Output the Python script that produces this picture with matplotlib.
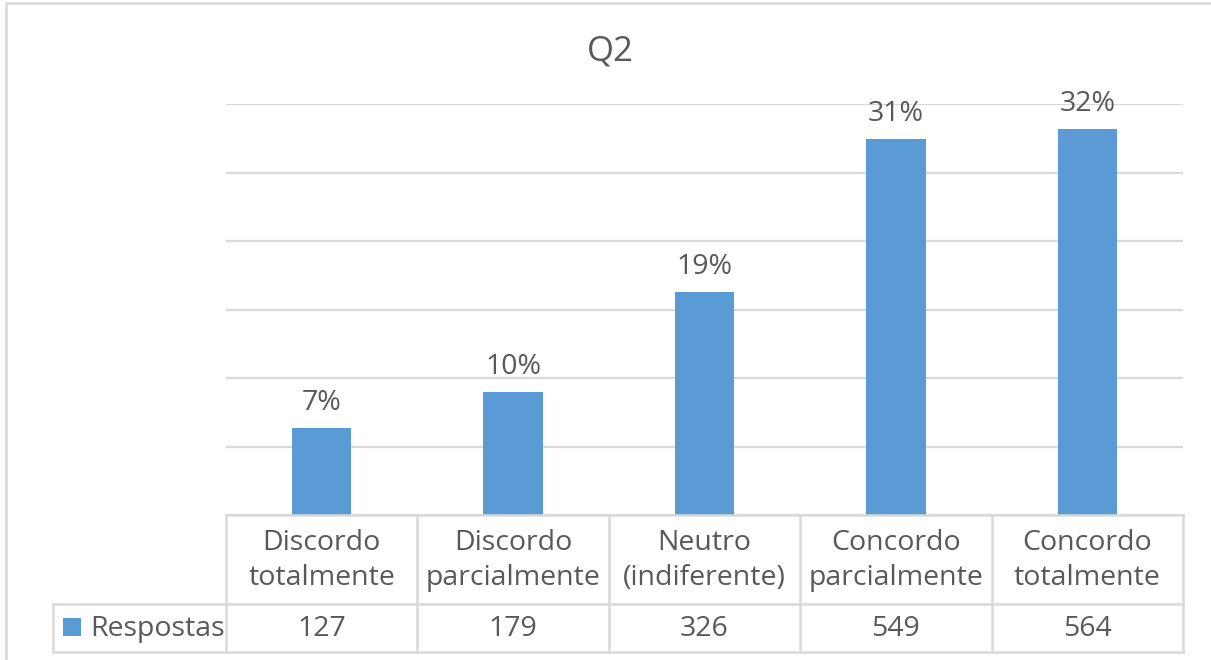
import matplotlib
matplotlib.use("Agg")
import matplotlib.pyplot as plt
from matplotlib.patches import Rectangle

#: Data
categories = ["Discordo\ntotalmente", "Discordo\nparcialmente", "Neutro\n(indiferente)",
              "Concordo\nparcialmente", "Concordo\ntotalmente"]
respostas = [127, 179, 326, 549, 564]
series_name = "Respostas"
title = "Q2"

total = sum(respostas)
pct_labels = ["{:.0f}%".format(v * 100 / total) for v in respostas]

bar_color = "#5B9BD5"
text_color = "#595959"
grid_color = "#D9D9D9"
W, H = 1211, 660
fs = 20.5

plt.rcParams["font.family"] = ["Open Sans", "DejaVu Sans"]

fig = plt.figure(figsize=(W / 100, H / 100), dpi=100)

#: pixel helpers (top-left origin)
def fx(x):
    return x / W

def fy(y):
    return 1 - y / H

left, right, top, base = 226, 1183, 104, 515
ax = fig.add_axes([fx(left), fy(base), fx(right) - fx(left), fy(top) - fy(base)])

x = range(len(respostas))
ax.bar(x, respostas, width=0.31, color=bar_color, zorder=3)
ax.set_xlim(-0.5, len(respostas) - 0.5)
ax.set_ylim(0, 600)
ax.set_yticks(range(0, 601, 100))
ax.yaxis.grid(True, color=grid_color, linewidth=1.6, zorder=0)
ax.tick_params(left=False, bottom=False, labelleft=False, labelbottom=False)
for s in ax.spines.values():
    s.set_visible(False)

for i, (v, lab) in enumerate(zip(respostas, pct_labels)):
    ax.annotate(lab, (i, v), xytext=(0, 8), textcoords="offset points",
                ha="center", va="bottom", fontsize=fs, color=text_color, clip_on=False)

#: title
fig.text(fx(610), fy(51), title, ha="center", va="center", fontsize=25, color=text_color)

#: outer border
fig.patches.append(Rectangle((fx(6), fy(H + 5)), 1.2, fy(3) - fy(H + 5), transform=fig.transFigure,
                             fill=False, edgecolor=grid_color, linewidth=1.8))

#: data table
row1_top, row2_top, row2_bot = 515, 604, 652
leg_left = 53
col_w = (right - left) / len(respostas)

def hline(y, x0, x1):
    fig.add_artist(plt.Line2D([fx(x0), fx(x1)], [fy(y), fy(y)], color=grid_color, linewidth=1.8))

def vline(xp, y0, y1):
    fig.add_artist(plt.Line2D([fx(xp), fx(xp)], [fy(y0), fy(y1)], color=grid_color, linewidth=1.8))

hline(row1_top, left, right)
hline(row2_top, leg_left, right)
hline(row2_bot, leg_left, right)
vline(leg_left, row2_top, row2_bot)
for j in range(len(respostas) + 1):
    vline(left + j * col_w, row1_top, row2_bot)

for j, (cat, v) in enumerate(zip(categories, respostas)):
    cx = left + (j + 0.5) * col_w
    fig.text(fx(cx), fy((row1_top + row2_top) / 2 + 1), cat, ha="center", va="center",
             fontsize=fs, color=text_color, linespacing=1.38)
    fig.text(fx(cx), fy((row2_top + row2_bot) / 2 + 1), str(v), ha="center", va="center",
             fontsize=fs, color=text_color)

#: legend key + series name
fig.patches.append(Rectangle((fx(63), fy(636)), fx(81) - fx(63), fy(618) - fy(636),
                             transform=fig.transFigure, facecolor=bar_color, edgecolor="none"))
fig.text(fx(90), fy((row2_top + row2_bot) / 2 + 1), series_name, ha="left", va="center",
         fontsize=fs, color=text_color)

fig.savefig("out.png", dpi=100)
